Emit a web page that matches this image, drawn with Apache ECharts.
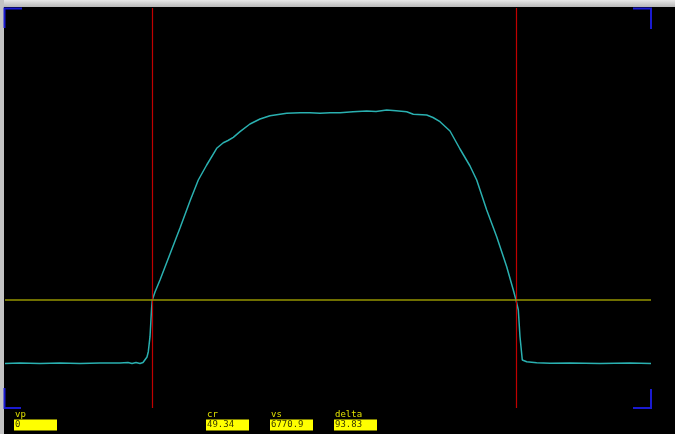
<!DOCTYPE html>
<html>
<head>
<meta charset="utf-8">
<script src="https://cdn.jsdelivr.net/npm/echarts@6/dist/echarts.min.js"></script>
<style>
  html, body { margin: 0; padding: 0; background: #000; }
  #chart { width: 675px; height: 434px; }
</style>
</head>
<body>
<div id="chart"></div>
<script>
// trace samples: [position, level]
var traceX = [0, 15, 35, 55, 75, 95, 115, 123, 127, 131, 135, 138, 140, 142, 143.3, 145, 146.7, 147.3,
  150, 155, 165, 175, 185, 193.3, 201.7, 211.7, 218.3, 223, 228.3, 235, 245, 255, 265, 281.7, 295,
  305, 315, 325, 335, 348, 361.7, 371, 381.7, 391, 401.7, 408.3, 421.7, 428, 435, 445, 455, 465,
  471.7, 481.7, 491.7, 501.7, 508.3, 511, 513.3, 515, 517.3, 521.7, 531.7, 545, 565, 595, 625, 646];
var traceY = [44.5, 45, 44.5, 45, 44.5, 45, 45, 45.5, 44.5, 45.5, 44.5, 45.5, 46, 51, 56.3, 71.3, 101.3, 108,
  116, 128, 154, 180, 207, 228, 243, 259.7, 265.3, 267.5, 270.7, 276.3, 284, 289, 292.3, 294.7, 295.2,
  295.3, 294.7, 295.2, 295.3, 296.3, 297, 296.5, 298, 297.2, 296.3, 293.7, 293, 290.5, 286.3, 277, 259, 242,
  228, 198, 171.3, 141.3, 118, 108, 98, 71.3, 48, 46.3, 45.3, 44.7, 45, 44.5, 45, 44.5];

// cursors and threshold
var cursorX = [147.3, 511];
var thresholdY = 108;

// readout fields
var fieldNames = ['vp', 'cr', 'vs', 'delta'];
var fieldValues = ['0', '49.34', '6770.9', '93.83'];
var fieldLeft = [14, 206, 270, 334];

var chart = echarts.init(document.getElementById('chart'));

var points = [];
for (var i = 0; i < traceX.length; i++) {
  points.push([traceX[i], traceY[i]]);
}

var graphics = [];
// window frame
graphics.push({
  type: 'rect', shape: { x: 0, y: 0, width: 675, height: 7 },
  style: { fill: new echarts.graphic.LinearGradient(0, 0, 0, 1, [
    { offset: 0, color: '#e8e8e8' }, { offset: 0.5, color: '#d0d0d0' }, { offset: 1, color: '#b8b8b8' }]) },
  silent: true
});
graphics.push({
  type: 'rect', shape: { x: 0, y: 0, width: 4, height: 434 },
  style: { fill: '#c4c4c4' }, silent: true
});
// blue corner brackets
var corners = [
  [[22, 8.5], [4.5, 8.5], [4.5, 28]],
  [[633, 8.5], [651, 8.5], [651, 29]],
  [[4.5, 388], [4.5, 408], [21, 408]],
  [[651, 389], [651, 408], [633, 408]]
];
corners.forEach(function (c) {
  graphics.push({
    type: 'polyline', shape: { points: c },
    style: { stroke: '#1a1ad0', lineWidth: 2, fill: null }, silent: true
  });
});
// readout boxes
for (var k = 0; k < fieldNames.length; k++) {
  graphics.push({
    type: 'text', left: fieldLeft[k] + 1, top: 410,
    style: { text: fieldNames[k], fill: '#e0e000', font: '9px "DejaVu Sans Mono"' }, silent: true
  });
  graphics.push({
    type: 'rect', shape: { x: fieldLeft[k], y: 419.5, width: 43, height: 11 },
    style: { fill: '#ffff00' }, silent: true
  });
  graphics.push({
    type: 'text', left: fieldLeft[k] + 1, top: 420.5,
    style: { text: fieldValues[k], fill: '#3a3a00', font: '9px "DejaVu Sans Mono"' }, silent: true
  });
}

var option = {
  backgroundColor: '#000',
  animation: false,
  grid: { left: 5, right: 24, top: 8, bottom: 26 },
  xAxis: { type: 'value', min: 0, max: 646, show: false },
  yAxis: { type: 'value', min: 0, max: 400, show: false },
  series: [{
    type: 'line',
    data: points,
    showSymbol: false,
    lineStyle: { color: '#2ab0b0', width: 1.5 },
    z: 3,
    markLine: {
      silent: true,
      symbol: 'none',
      label: { show: false },
      data: [
        { xAxis: cursorX[0], lineStyle: { color: '#c00000', width: 1.2, type: 'solid' } },
        { xAxis: cursorX[1], lineStyle: { color: '#c00000', width: 1.2, type: 'solid' } },
        { yAxis: thresholdY, lineStyle: { color: '#959500', width: 1.5, type: 'solid' } }
      ]
    }
  }],
  graphic: graphics
};
chart.setOption(option);
</script>
</body>
</html>
